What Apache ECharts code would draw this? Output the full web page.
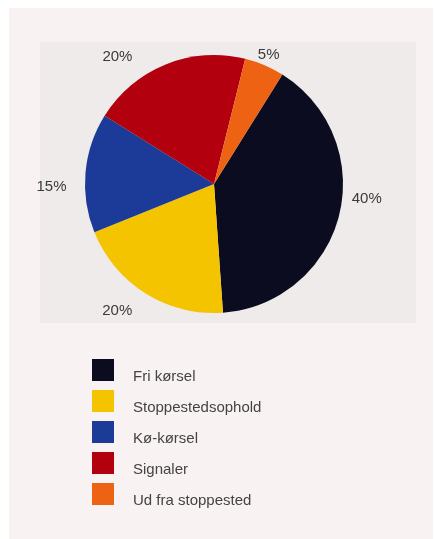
<!DOCTYPE html>
<html>
<head>
<meta charset="utf-8">
<script src="https://cdn.jsdelivr.net/npm/echarts@6/dist/echarts.min.js"></script>
<style>
html,body{margin:0;padding:0;background:#ffffff;}
#card{position:absolute;left:9px;top:8px;width:424px;height:531px;background:#f8f3f2;}
#chart{position:absolute;left:0;top:0;width:435px;height:539px;}
</style>
</head>
<body>
<div id="card"></div>
<div id="chart"></div>
<script>
var categories = ['Fri kørsel', 'Stoppestedsophold', 'Kø-kørsel', 'Signaler', 'Ud fra stoppested'];
var values = [40, 20, 15, 20, 5];
var colors = ['#0c0c20', '#f4c400', '#1c3a98', '#b2000f', '#ee6214'];
// small label nudges (dx, dy) to match the hand-placed labels of the original
var labelNudge = [[-10, -20], [3, 6], [4, 15], [-19, 5], [-21, 2]];

var chart = echarts.init(document.getElementById('chart'), null, {renderer: 'canvas'});
var data = categories.map(function (c, i) {
  return {name: c, value: values[i], itemStyle: {color: colors[i]}};
});
chart.setOption({
  backgroundColor: 'transparent',
  animation: false,
  graphic: [{
    type: 'rect', left: 40, top: 42, z: -1,
    shape: {width: 376, height: 281},
    style: {fill: '#efebea'}
  }],
  legend: {
    orient: 'vertical',
    left: 92, top: 359,
    padding: 0,
    itemWidth: 22, itemHeight: 22, itemGap: 6,
    icon: 'rect',
    selectedMode: false,
    data: categories,
    formatter: '{t|{name}}',
    textStyle: {
      fontFamily: 'Liberation Sans, Arial, sans-serif', fontSize: 15, color: '#444',
      rich: {t: {fontFamily: 'Liberation Sans, Arial, sans-serif', fontSize: 15, color: '#444', padding: [13, 0, 0, 14]}}
    }
  },
  series: [{
    type: 'pie',
    center: [214, 184],
    radius: 129,
    startAngle: 58,
    clockwise: true,
    data: data,
    itemStyle: {borderWidth: 0},
    label: {
      show: true,
      position: 'outside',
      formatter: '{c}%',
      fontFamily: 'Liberation Sans, Arial, sans-serif',
      fontSize: 15,
      color: '#3a3a3a'
    },
    labelLine: {show: false, length: 14, length2: 4},
    labelLayout: function (p) {
      var n = labelNudge[p.dataIndex];
      return {dx: n[0], dy: n[1]};
    },
    emphasis: {disabled: true}
  }]
});
</script>
</body>
</html>
